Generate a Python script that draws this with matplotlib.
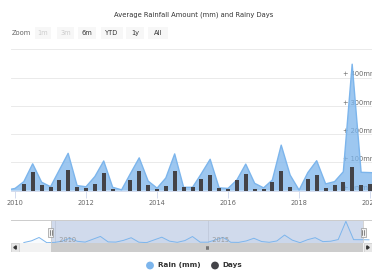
import matplotlib
matplotlib.use("Agg")
import matplotlib.pyplot as plt
import matplotlib.dates as mdates
from matplotlib.patches import Rectangle, Circle, Polygon
import pandas as pd

# quarterly rainfall, Jan 2009 .. Apr 2020
quarters = pd.date_range("2009-01-01", "2020-04-01", freq="QS")
rain_mm = [
    5, 40, 110, 2,      # 2009
    8, 32, 95, 30,      # 2010
    14, 73, 132, 18,    # 2011
    14, 50, 105, 12,    # 2012
    3, 60, 116, 34,     # 2013
    9, 45, 130, 12,     # 2014
    12, 60, 111, 10,    # 2015
    8, 38, 94, 26,      # 2016
    10, 38, 161, 55,    # 2017
    2, 64, 106, 24,     # 2018
    32, 67, 447, 65,    # 2019
    64, 62,             # 2020
]

# rainy days per quarter, Jan 2010 .. Jan 2020
days_quarters = pd.date_range("2010-01-01", "2020-01-01", freq="QS")
rainy_days = [
    0, 7, 19, 6,
    4, 11, 21, 4,
    3, 7, 18, 2,
    0, 11, 20, 6,
    2, 5, 20, 4,
    4, 12, 16, 3,
    2, 11, 17, 2,
    2, 9, 20, 4,
    0, 12, 16, 3,
    6, 9, 24, 6,
    7,
]

view_start = pd.Timestamp("2009-11-20")
view_end = pd.Timestamp("2020-01-21")

y_ticks = [0, 100, 200, 300, 400, 500]
y_labels = ["+ 0mm", "+ 100mm", "+ 200mm", "+ 300mm", "+ 400mm"]
year_ticks = [2010, 2012, 2014, 2016, 2018, 2020]
nav_years = [2010, 2015]
buttons = ["1m", "3m", "6m", "YTD", "1y", "All"]
disabled = ["1m", "3m"]

RAIN = "#7cb5ec"
DAYS = "#434348"

W, H = 372, 274
fig = plt.figure(figsize=(W / 100, H / 100), dpi=100)


def px_axes(l, t, r, b):
    return fig.add_axes([l / W, 1 - b / H, (r - l) / W, (b - t) / H])


# ---- main chart
ax = px_axes(11, 49.2, 372, 190.7)
ax.fill_between(quarters, rain_mm, color=RAIN, alpha=0.75, lw=0, zorder=2)
ax.plot(quarters, rain_mm, color=RAIN, lw=1, zorder=3)
ax.set_xlim(view_start, view_end)
ax.set_ylim(0, 500)
ax.set_yticks(y_ticks)
ax.grid(axis="y", color="#e6e6e6", lw=0.6, zorder=0)
ax.set_xticks([pd.Timestamp(f"{y}-01-01") for y in year_ticks])
ax.xaxis.set_major_formatter(mdates.DateFormatter("%Y"))
ax.tick_params(axis="x", length=5, width=0.6, color="#ccd6eb",
               labelsize=4.8, labelcolor="#666666", pad=2)
for s in ["top", "left", "right"]:
    ax.spines[s].set_visible(False)
ax.spines["bottom"].set_color("#ccd6eb")
ax.spines["bottom"].set_linewidth(0.6)
for v, lab in zip(y_ticks, y_labels):
    ax.text((343 - 11) / 361, v, lab, transform=ax.get_yaxis_transform(),
            fontsize=4.8, color="#666666", va="bottom", ha="left", zorder=1)

ax_days = ax.twinx()
ax_days.bar(days_quarters, rainy_days, width=41, color=DAYS, zorder=4)
ax_days.set_ylim(0, 141.5)
ax_days.set_xlim(view_start, view_end)
ax_days.axis("off")
# twinx turns the left ticks back on
ax.tick_params(axis="y", left=False, right=False, labelleft=False)

# ---- navigator
span = view_end - view_start
nav_start = view_start - span * (40 / 312)
nav_end = view_end + span * (9 / 312)
nav = px_axes(11, 220, 372, 243)
nav.plot(quarters, rain_mm, color=RAIN, lw=0.7)
nav.fill_between(quarters, rain_mm, color=RAIN, alpha=0.05, lw=0)
nav.set_xlim(nav_start, nav_end)
nav.set_ylim(-5, 475)
nav.axvspan(view_start, view_end, color=(102 / 255, 133 / 255, 194 / 255),
            alpha=0.3, lw=0)
for y in nav_years:
    t = pd.Timestamp(f"{y}-01-01")
    nav.axvline(t, color="#e6e6e6", lw=0.6, zorder=0)
    nav.text(t, 0.15, f"  {y}", transform=nav.get_xaxis_transform(),
             fontsize=4.8, color="#999999", ha="left", va="center")
nav.axis("off")
nav.plot([0, 1], [1, 1], transform=nav.transAxes, color="#cccccc", lw=0.7,
         clip_on=False)
for t in [view_start, view_end]:
    nav.axvline(t, color="#cccccc", lw=0.6)

# overlay in figure pixels for chrome
over = fig.add_axes([0, 0, 1, 1], zorder=10)
over.set_xlim(0, W)
over.set_ylim(H, 0)
over.axis("off")
for t in [view_start, view_end]:
    fx = nav.transData.transform((mdates.date2num(t), 0))[0] * W / fig.bbox.width
    over.add_patch(Rectangle((fx - 2.5, 227.5), 5, 9, facecolor="#f2f2f2",
                             edgecolor="#999999", lw=0.5))
    over.plot([fx - 0.8, fx - 0.8], [230, 234.5], color="#333333", lw=0.4)
    over.plot([fx + 0.8, fx + 0.8], [230, 234.5], color="#333333", lw=0.4)

# ---- scrollbar
sb = px_axes(11, 243.3, 372, 251.7)
sb.set_facecolor("#f2f2f2")
sb.set_xlim(nav_start, nav_end)
sb.set_ylim(0, 1)
sb.axvspan(view_start, view_end, color="#cccccc", lw=0)
mid = view_start + span / 2
for dx in [-1, 0, 1]:
    mx = mdates.date2num(mid) + dx * 10
    sb.plot([mx, mx], [0.35, 0.65], color="#333333", lw=0.4)
bw = 8 / 361
sb.add_patch(Rectangle((0, 0), bw, 1, transform=sb.transAxes,
                       facecolor="#e6e6e6", edgecolor="#cccccc", lw=0.5))
sb.add_patch(Rectangle((1 - bw, 0), bw, 1, transform=sb.transAxes,
                       facecolor="#e6e6e6", edgecolor="#cccccc", lw=0.5))
sb.add_patch(Polygon([(bw * 0.35, 0.5), (bw * 0.65, 0.3), (bw * 0.65, 0.7)],
                     transform=sb.transAxes, color="#333333"))
sb.add_patch(Polygon([(1 - bw * 0.35, 0.5), (1 - bw * 0.65, 0.3),
                      (1 - bw * 0.65, 0.7)],
                     transform=sb.transAxes, color="#333333"))
sb.set_xticks([])
sb.set_yticks([])
for s in sb.spines.values():
    s.set_visible(False)

# ---- title, range selector, legend
fig.text(193.5 / W, 1 - 14.5 / H, "Average Rainfall Amount (mm) and Rainy Days",
         ha="center", va="center", fontsize=4.9, color="#333333")
over.text(12, 33, "Zoom", fontsize=4.8, color="#666666", va="center")
btn_x = [(35, 51), (57, 74), (78, 96), (101, 123), (126, 144), (148, 168)]
for (x0, x1), lab in zip(btn_x, buttons):
    over.add_patch(Rectangle((x0, 27), x1 - x0, 12, facecolor="#f7f7f7",
                             edgecolor="none"))
    over.text((x0 + x1) / 2, 33, lab, fontsize=4.8, ha="center", va="center",
              color="#cccccc" if lab in disabled else "#333333")

over.add_patch(Circle((150, 265.5), 3.2, color=RAIN))
over.text(158, 265.5, "Rain (mm)", fontsize=5.2, fontweight="bold",
          color="#333333", va="center")
over.add_patch(Circle((215, 265.5), 3.2, color=DAYS))
over.text(222, 265.5, "Days", fontsize=5.2, fontweight="bold",
          color="#333333", va="center")

fig.savefig("out.png", dpi=100)
